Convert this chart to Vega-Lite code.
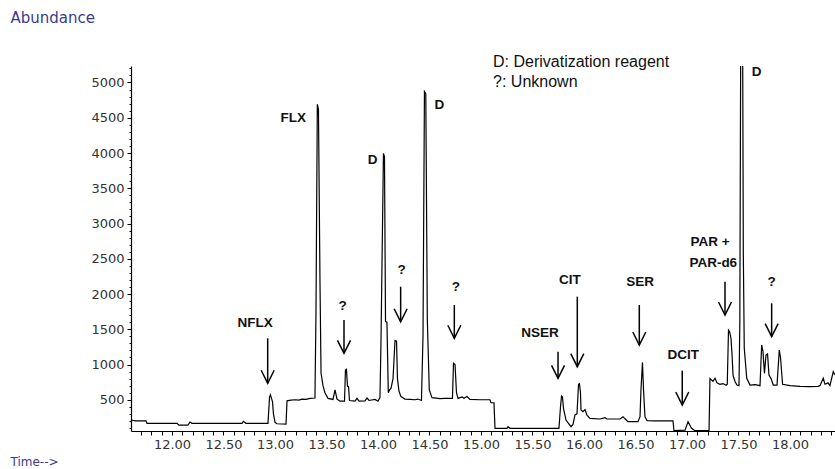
{
  "$schema": "https://vega.github.io/schema/vega-lite/v6.json",
  "width": 704,
  "height": 365,
  "autosize": {"type": "none"},
  "padding": {"left": 131, "top": 66, "right": 0, "bottom": 38},
  "background": "white",
  "config": {"view": {"stroke": null}, "axis": {"labelOverlap": false, "grid": false}},
  "resolve": {"axis": {"x": "independent", "y": "independent"}},
  "datasets": {
    "trace": [
      {"t": 11.602, "a": 213}, {"t": 11.650, "a": 200}, {"t": 11.748, "a": 200}, {"t": 11.757, "a": 166},
      {"t": 12.049, "a": 166}, {"t": 12.068, "a": 140}, {"t": 12.155, "a": 140}, {"t": 12.175, "a": 185},
      {"t": 12.194, "a": 166}, {"t": 12.680, "a": 166}, {"t": 12.694, "a": 195}, {"t": 12.718, "a": 166},
      {"t": 12.932, "a": 166}, {"t": 12.947, "a": 540}, {"t": 12.956, "a": 570}, {"t": 12.966, "a": 520},
      {"t": 12.976, "a": 470}, {"t": 12.985, "a": 300}, {"t": 13.000, "a": 180}, {"t": 13.019, "a": 160},
      {"t": 13.107, "a": 155}, {"t": 13.117, "a": 485}, {"t": 13.155, "a": 495}, {"t": 13.194, "a": 500},
      {"t": 13.233, "a": 495}, {"t": 13.262, "a": 510}, {"t": 13.301, "a": 505}, {"t": 13.340, "a": 520},
      {"t": 13.388, "a": 525}, {"t": 13.398, "a": 1750}, {"t": 13.411, "a": 4690}, {"t": 13.422, "a": 4620},
      {"t": 13.437, "a": 2150}, {"t": 13.447, "a": 880}, {"t": 13.466, "a": 700}, {"t": 13.485, "a": 600},
      {"t": 13.515, "a": 520}, {"t": 13.563, "a": 505}, {"t": 13.583, "a": 640}, {"t": 13.602, "a": 510},
      {"t": 13.631, "a": 480}, {"t": 13.675, "a": 480}, {"t": 13.684, "a": 920}, {"t": 13.694, "a": 930},
      {"t": 13.704, "a": 690}, {"t": 13.714, "a": 690}, {"t": 13.723, "a": 490}, {"t": 13.777, "a": 480},
      {"t": 13.796, "a": 520}, {"t": 13.816, "a": 480}, {"t": 13.874, "a": 485}, {"t": 13.893, "a": 525},
      {"t": 13.913, "a": 490}, {"t": 13.971, "a": 505}, {"t": 14.000, "a": 480}, {"t": 14.019, "a": 530},
      {"t": 14.029, "a": 1320}, {"t": 14.053, "a": 3995}, {"t": 14.063, "a": 3950}, {"t": 14.073, "a": 1610},
      {"t": 14.087, "a": 1600}, {"t": 14.100, "a": 600}, {"t": 14.112, "a": 640}, {"t": 14.126, "a": 660},
      {"t": 14.146, "a": 800}, {"t": 14.165, "a": 1340}, {"t": 14.180, "a": 1330}, {"t": 14.189, "a": 800},
      {"t": 14.204, "a": 620}, {"t": 14.223, "a": 545}, {"t": 14.262, "a": 510}, {"t": 14.311, "a": 505},
      {"t": 14.359, "a": 500}, {"t": 14.388, "a": 510}, {"t": 14.422, "a": 490}, {"t": 14.437, "a": 1400},
      {"t": 14.451, "a": 4870}, {"t": 14.464, "a": 4840}, {"t": 14.479, "a": 1630}, {"t": 14.498, "a": 640},
      {"t": 14.524, "a": 530}, {"t": 14.602, "a": 515}, {"t": 14.650, "a": 520}, {"t": 14.723, "a": 520},
      {"t": 14.733, "a": 1017}, {"t": 14.748, "a": 1000}, {"t": 14.762, "a": 600}, {"t": 14.777, "a": 520},
      {"t": 14.816, "a": 540}, {"t": 14.835, "a": 520}, {"t": 14.864, "a": 545}, {"t": 14.893, "a": 505},
      {"t": 14.990, "a": 500}, {"t": 15.087, "a": 500}, {"t": 15.097, "a": 458}, {"t": 15.126, "a": 458},
      {"t": 15.136, "a": 95}, {"t": 15.252, "a": 95}, {"t": 15.262, "a": 118}, {"t": 15.282, "a": 95},
      {"t": 15.757, "a": 95}, {"t": 15.772, "a": 400}, {"t": 15.782, "a": 553}, {"t": 15.791, "a": 540},
      {"t": 15.801, "a": 378}, {"t": 15.825, "a": 213}, {"t": 15.874, "a": 118}, {"t": 15.893, "a": 150},
      {"t": 15.913, "a": 285}, {"t": 15.932, "a": 300}, {"t": 15.947, "a": 720}, {"t": 15.956, "a": 730},
      {"t": 15.966, "a": 600}, {"t": 15.971, "a": 355}, {"t": 15.990, "a": 330}, {"t": 16.010, "a": 360},
      {"t": 16.029, "a": 280}, {"t": 16.058, "a": 237}, {"t": 16.155, "a": 227}, {"t": 16.204, "a": 245},
      {"t": 16.223, "a": 227}, {"t": 16.350, "a": 227}, {"t": 16.379, "a": 260}, {"t": 16.398, "a": 230},
      {"t": 16.427, "a": 189}, {"t": 16.524, "a": 189}, {"t": 16.544, "a": 260}, {"t": 16.553, "a": 638},
      {"t": 16.568, "a": 1030}, {"t": 16.578, "a": 640}, {"t": 16.592, "a": 260}, {"t": 16.612, "a": 205},
      {"t": 16.689, "a": 200}, {"t": 16.864, "a": 200}, {"t": 16.874, "a": 61}, {"t": 16.981, "a": 70},
      {"t": 17.010, "a": 189}, {"t": 17.044, "a": 95}, {"t": 17.078, "a": 61}, {"t": 17.214, "a": 61},
      {"t": 17.223, "a": 800}, {"t": 17.252, "a": 760}, {"t": 17.272, "a": 805}, {"t": 17.291, "a": 740},
      {"t": 17.320, "a": 720}, {"t": 17.350, "a": 730}, {"t": 17.379, "a": 705}, {"t": 17.391, "a": 720},
      {"t": 17.403, "a": 1490}, {"t": 17.413, "a": 1470}, {"t": 17.427, "a": 1371}, {"t": 17.437, "a": 1150},
      {"t": 17.447, "a": 850}, {"t": 17.466, "a": 760}, {"t": 17.485, "a": 709}, {"t": 17.505, "a": 700},
      {"t": 17.513, "a": 1607}, {"t": 17.521, "a": 5300}, {"t": 17.541, "a": 5300}, {"t": 17.547, "a": 2553},
      {"t": 17.556, "a": 1234}, {"t": 17.580, "a": 804}, {"t": 17.612, "a": 709}, {"t": 17.660, "a": 715},
      {"t": 17.709, "a": 700}, {"t": 17.725, "a": 1277}, {"t": 17.738, "a": 1182}, {"t": 17.752, "a": 875},
      {"t": 17.767, "a": 1135}, {"t": 17.782, "a": 1150}, {"t": 17.796, "a": 851}, {"t": 17.816, "a": 800},
      {"t": 17.838, "a": 709}, {"t": 17.874, "a": 709}, {"t": 17.896, "a": 1206}, {"t": 17.908, "a": 1100},
      {"t": 17.928, "a": 720}, {"t": 18.000, "a": 700}, {"t": 18.097, "a": 690}, {"t": 18.194, "a": 685},
      {"t": 18.272, "a": 690}, {"t": 18.291, "a": 700}, {"t": 18.323, "a": 804}, {"t": 18.340, "a": 720},
      {"t": 18.369, "a": 740}, {"t": 18.388, "a": 700}, {"t": 18.420, "a": 898}, {"t": 18.437, "a": 850}
    ],
    "arrows": [
      {"t": 12.929, "top": 1372, "tip": 734},
      {"t": 13.670, "top": 1631, "tip": 1159},
      {"t": 14.220, "top": 2104, "tip": 1607},
      {"t": 14.741, "top": 1844, "tip": 1372},
      {"t": 15.748, "top": 1182, "tip": 804},
      {"t": 15.935, "top": 1962, "tip": 969},
      {"t": 16.537, "top": 1844, "tip": 1277},
      {"t": 16.954, "top": 912, "tip": 426},
      {"t": 17.369, "top": 2174, "tip": 1702},
      {"t": 17.822, "top": 1868, "tip": 1395}
    ],
    "labels": [
      {"t": 12.806, "a": 1584, "label": "NFLX"},
      {"t": 13.178, "a": 4492, "label": "FLX"},
      {"t": 13.657, "a": 1830, "label": "?"},
      {"t": 13.949, "a": 3901, "label": "D"},
      {"t": 14.230, "a": 2340, "label": "?"},
      {"t": 14.595, "a": 4681, "label": "D"},
      {"t": 14.757, "a": 2104, "label": "?"},
      {"t": 15.573, "a": 1443, "label": "NSER"},
      {"t": 15.864, "a": 2199, "label": "CIT"},
      {"t": 16.544, "a": 2174, "label": "SER"},
      {"t": 16.964, "a": 1135, "label": "DCIT"},
      {"t": 17.223, "a": 2742, "label": "PAR +"},
      {"t": 17.255, "a": 2436, "label": "PAR-d6"},
      {"t": 17.677, "a": 5153, "label": "D"},
      {"t": 17.822, "a": 2174, "label": "?"}
    ],
    "legend": [
      {"t": 15.117, "a": 5295, "label": "D: Derivatization reagent"},
      {"t": 15.117, "a": 5011, "label": "?: Unknown"}
    ]
  },
  "layer": [
    {
      "data": {"name": "trace"},
      "mark": {"type": "line", "color": "black", "strokeWidth": 1.2, "clip": true, "interpolate": "linear"},
      "encoding": {
        "x": {
          "field": "t", "type": "quantitative",
          "scale": {"domain": [11.602, 18.437], "nice": false, "zero": false},
          "axis": {
            "orient": "bottom",
            "values": [12.0, 12.5, 13.0, 13.5, 14.0, 14.5, 15.0, 15.5, 16.0, 16.5, 17.0, 17.5, 18.0],
            "format": ".2f",
            "labelOverlap": false, "labelFlush": false,
            "grid": false, "domainColor": "black", "domainWidth": 1.2,
            "tickColor": "black", "tickSize": 4, "tickWidth": 1,
            "labelFont": "DejaVu Sans", "labelFontSize": 13, "labelColor": "#333333", "labelPadding": 3,
            "title": "Time-->", "titleFont": "DejaVu Sans", "titleFontSize": 12, "titleFontWeight": "normal",
            "titleColor": "#3a3a8f", "titleAlign": "left", "titleBaseline": "middle", "titleX": -121, "titleY": 30
          }
        },
        "y": {
          "field": "a", "type": "quantitative",
          "scale": {"domain": [57, 5234], "nice": false, "zero": false},
          "axis": {
            "orient": "left",
            "values": [500, 1000, 1500, 2000, 2500, 3000, 3500, 4000, 4500, 5000],
            "format": "d",
            "labelOverlap": false, "labelFlush": false,
            "grid": false, "domainColor": "black", "domainWidth": 1.2,
            "tickColor": "black", "tickSize": 4, "tickWidth": 1,
            "labelFont": "DejaVu Sans", "labelFontSize": 13, "labelColor": "#333333", "labelPadding": 3,
            "title": "Abundance", "titleAngle": 0, "titleFont": "DejaVu Sans", "titleFontSize": 15, "titleFontWeight": "normal",
            "titleColor": "#3a3a8f", "titleAlign": "left", "titleBaseline": "middle", "titleX": -121, "titleY": -49
          }
        }
      }
    },
    {
      "data": {"name": "arrows"},
      "mark": {"type": "rule", "color": "black", "strokeWidth": 1.5},
      "encoding": {
        "x": {
          "field": "t", "type": "quantitative",
          "axis": {
            "orient": "bottom",
            "values": [11.7, 11.8, 11.9, 12.1, 12.2, 12.3, 12.4, 12.6, 12.7, 12.8, 12.9, 13.1, 13.2, 13.3, 13.4, 13.6, 13.7, 13.8, 13.9, 14.1, 14.2, 14.3, 14.4, 14.6, 14.7, 14.8, 14.9, 15.1, 15.2, 15.3, 15.4, 15.6, 15.7, 15.8, 15.9, 16.1, 16.2, 16.3, 16.4, 16.6, 16.7, 16.8, 16.9, 17.1, 17.2, 17.3, 17.4, 17.6, 17.7, 17.8, 17.9, 18.1, 18.2, 18.3, 18.4],
            "labels": false, "domain": false, "title": null, "grid": false,
            "tickColor": "black", "tickSize": 4, "tickWidth": 1
          }
        },
        "y": {
          "field": "top", "type": "quantitative",
          "axis": {
            "orient": "left",
            "values": [100, 200, 300, 400, 600, 700, 800, 900, 1100, 1200, 1300, 1400, 1600, 1700, 1800, 1900, 2100, 2200, 2300, 2400, 2600, 2700, 2800, 2900, 3100, 3200, 3300, 3400, 3600, 3700, 3800, 3900, 4100, 4200, 4300, 4400, 4600, 4700, 4800, 4900, 5100, 5200],
            "labels": false, "domain": false, "title": null, "grid": false,
            "tickColor": "black", "tickSize": 2, "tickWidth": 1
          }
        },
        "y2": {"field": "tip"}
      }
    },
    {
      "data": {"name": "arrows"},
      "mark": {"type": "point", "shape": "M-0.5,-1L0,0L0.5,-1", "size": 676, "filled": false, "stroke": "black", "strokeWidth": 1.5, "opacity": 1},
      "encoding": {
        "x": {"field": "t", "type": "quantitative", "axis": null},
        "y": {"field": "tip", "type": "quantitative", "axis": null}
      }
    },
    {
      "data": {"name": "labels"},
      "mark": {"type": "text", "font": "Liberation Sans", "fontWeight": "bold", "fontSize": 13.5, "color": "#111111", "align": "center", "baseline": "middle"},
      "encoding": {
        "x": {"field": "t", "type": "quantitative", "axis": null},
        "y": {"field": "a", "type": "quantitative", "axis": null},
        "text": {"field": "label"}
      }
    },
    {
      "data": {"name": "legend"},
      "mark": {"type": "text", "font": "Liberation Sans", "fontSize": 16, "color": "#111111", "align": "left", "baseline": "middle"},
      "encoding": {
        "x": {"field": "t", "type": "quantitative", "axis": null},
        "y": {"field": "a", "type": "quantitative", "axis": null},
        "text": {"field": "label"}
      }
    }
  ]
}
